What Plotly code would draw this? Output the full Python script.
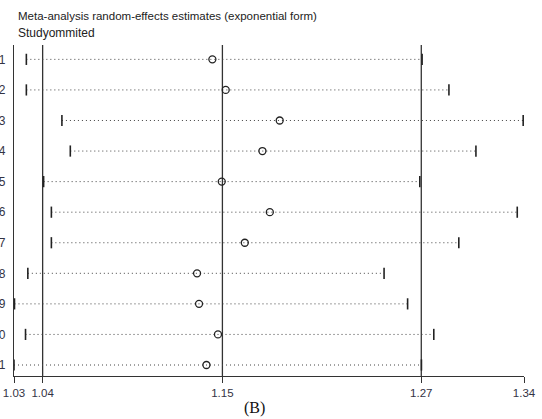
import plotly.graph_objects as go

# ---- data ----
studies = ["1", "2", "3", "4", "5", "6", "7", "8", "9", "10", "11"]
estimate = [1.1469, 1.1550, 1.1878, 1.1773, 1.1526, 1.1818, 1.1666, 1.1376, 1.1388, 1.1503, 1.1433]
lower_ci = [1.0339, 1.0339, 1.0555, 1.0606, 1.0444, 1.0491, 1.0491, 1.0348, 1.0267, 1.0334, 1.0264]
upper_ci = [1.2743, 1.2906, 1.3357, 1.3070, 1.2729, 1.3321, 1.2966, 1.2512, 1.2655, 1.2814, 1.2739]

# axis ticks: min lower CI, pooled lower CI, pooled estimate, pooled upper CI, max upper CI
tick_vals = [1.0264, 1.0438, 1.1530, 1.2738, 1.3362]
tick_text = ["1.03", "1.04", "1.15", "1.27", "1.34"]
ref_lines = tick_vals[1:4]

W, H = 542, 419
ML, MR, MT, MB = 14, 18, 45, 43
PW, PH = W - ML - MR, H - MT - MB

def px_x(px):
    return (px - ML) / PW

def px_y(py):
    return (H - MB - py) / PH

fig = go.Figure()

ypos = list(range(1, len(studies) + 1))

# dotted CI lines
for i, y in enumerate(ypos):
    fig.add_trace(go.Scatter(
        x=[lower_ci[i], upper_ci[i]], y=[y, y], mode="lines",
        line=dict(color="#444444", width=1, dash="1px,3px"),
        hoverinfo="skip", showlegend=False, cliponaxis=False))

# CI end bars
fig.add_trace(go.Scatter(
    x=lower_ci + upper_ci, y=ypos + ypos, mode="markers",
    marker=dict(symbol="line-ns-open", size=8, color="#222222",
                line=dict(color="#222222", width=1.6)),
    showlegend=False, cliponaxis=False))

# point estimates
fig.add_trace(go.Scatter(
    x=estimate, y=ypos, mode="markers",
    marker=dict(symbol="circle-open", size=7, color="#222222", line=dict(color="#222222", width=1.3)),
    showlegend=False, cliponaxis=False))

shapes = []
for v in ref_lines:
    shapes.append(dict(type="line", xref="x", yref="paper", x0=v, x1=v, y0=0, y1=1,
                       line=dict(color="#333333", width=1.3), layer="below"))

annotations = [
    dict(text="Meta-analysis random-effects estimates (exponential form)", xref="paper", yref="paper",
         x=px_x(16), y=px_y(16), xanchor="left", yanchor="middle", showarrow=False,
         font=dict(family="Liberation Sans, Arial", size=11.5, color="#222222")),
    dict(text="Studyommited", xref="paper", yref="paper",
         x=px_x(16), y=px_y(33), xanchor="left", yanchor="middle", showarrow=False,
         font=dict(family="Liberation Sans, Arial", size=12, color="#222222")),
    dict(text="(B)", xref="paper", yref="paper",
         x=px_x(254), y=px_y(408), xanchor="center", yanchor="middle", showarrow=False,
         font=dict(family="Liberation Serif, Times New Roman", size=16, color="#111111")),
]

fig.update_layout(
    width=W, height=H,
    margin=dict(l=ML, r=MR, t=MT, b=MB, autoexpand=False),
    plot_bgcolor="white", paper_bgcolor="white",
    shapes=shapes, annotations=annotations,
    xaxis=dict(range=[tick_vals[0], tick_vals[-1]], tickvals=tick_vals, ticktext=tick_text,
               showgrid=False, zeroline=False, showline=True, linecolor="#333333", linewidth=1.3,
               ticks="outside", ticklen=6, tickwidth=1.3, tickcolor="#333333",
               tickfont=dict(family="Liberation Sans, Arial", size=11.5, color="#333344")),
    yaxis=dict(range=[11.36, 0.53], tickvals=ypos, ticktext=studies,
               showgrid=False, zeroline=False, showline=True, linecolor="#333333", linewidth=1.3,
               ticks="outside", ticklen=5, tickcolor="rgba(0,0,0,0)",
               tickfont=dict(family="Liberation Sans, Arial", size=12, color="#333344")),
)

fig.write_html("out.html", config={"displayModeBar": False},
               post_script="document.body.style.margin='0';")
